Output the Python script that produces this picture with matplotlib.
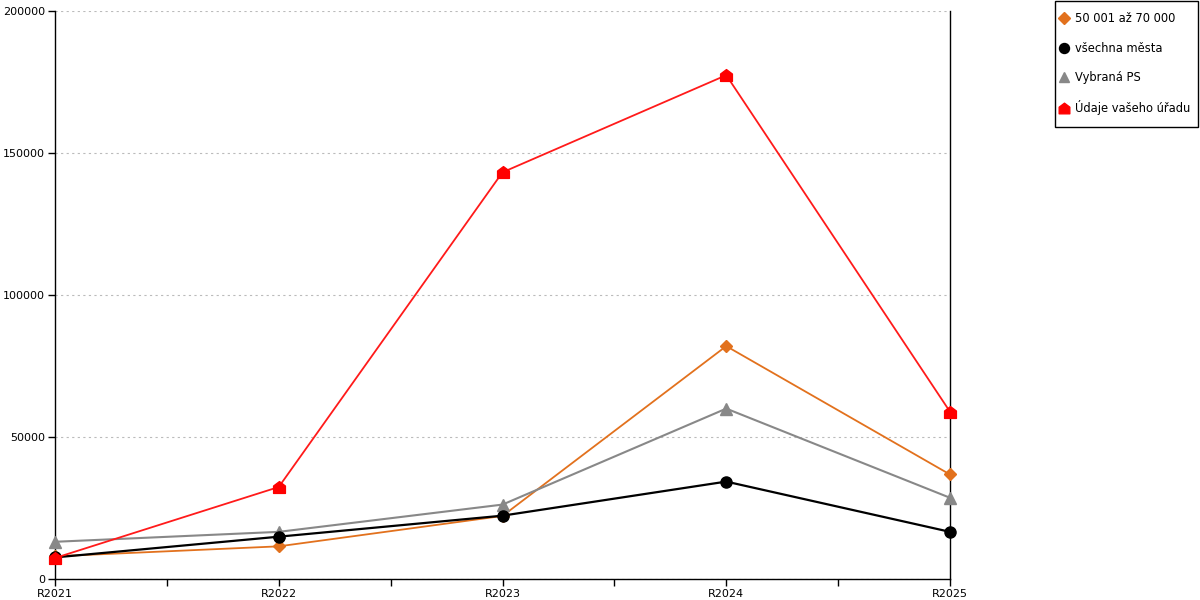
import matplotlib
matplotlib.use("Agg")
import matplotlib.pyplot as plt
from matplotlib.path import Path
from matplotlib.patches import Rectangle
from matplotlib.ticker import MultipleLocator

years = ["R2021", "R2022", "R2023", "R2024", "R2025"]
mesta_50_70 = [8000, 11500, 22200, 82000, 36800]
vsechna_mesta = [7600, 14900, 22300, 34300, 16600]
vybrana_ps = [13100, 16600, 26200, 60000, 28600]
vas_urad = [7400, 32400, 143200, 177400, 58900]

plt.rcParams["font.family"] = ["DejaVu Sans"]

W, H = 1200, 600

# house shaped marker for the office series
house = Path([(-1, -1), (1, -1), (1, 0.25), (0, 1), (-1, 0.25), (-1, -1)],
             [Path.MOVETO, Path.LINETO, Path.LINETO, Path.LINETO, Path.LINETO, Path.CLOSEPOLY])

fig = plt.figure(figsize=(12, 6), dpi=100)
ax = fig.add_axes([55 / W, 1 - 579 / H, (950 - 55) / W, (579 - 11) / H])

x = list(range(len(years)))
ax.plot(x, mesta_50_70, color="#E2711D", lw=1.3, marker="D", ms=6.5, label="50 001 až 70 000",
        zorder=3, clip_on=False)
ax.plot(x, vybrana_ps, color="#888888", lw=1.5, marker="^", ms=8.5, label="Vybraná PS",
        zorder=3, clip_on=False)
ax.plot(x, vsechna_mesta, color="#000000", lw=1.6, marker="o", ms=8, label="všechna města",
        zorder=4, clip_on=False)
ax.plot(x, vas_urad, color="#FF1A1A", lw=1.3, marker=house, ms=8.5, mfc="#FF0000", mec="#FF0000",
        label="Údaje vašeho úřadu", zorder=5, clip_on=False)

ax.set_xlim(0, len(years) - 1)
ax.set_ylim(0, 200000)
ax.set_xticks(x)
ax.set_xticklabels(years, fontsize=8)
ax.xaxis.set_minor_locator(MultipleLocator(0.5))
ax.set_yticks([0, 50000, 100000, 150000, 200000])
ax.set_yticklabels(["0", "50000", "100000", "150000", "200000"], fontsize=8)
ax.tick_params(axis="both", which="both", length=5, width=1, color="black", pad=2)
ax.tick_params(axis="x", which="minor", length=5)

ax.yaxis.grid(True, linestyle=(0, (2, 3)), color="#BBBBBB", lw=0.8)
ax.set_axisbelow(True)
ax.spines["top"].set_visible(False)
for s in ["left", "bottom", "right"]:
    ax.spines[s].set_color("black")
    ax.spines[s].set_linewidth(1)

# legend box drawn by hand so the paddings can differ
fig.patches.append(Rectangle((1054.5 / W, 1 - 127 / H), (1197.5 - 1054.5) / W, 126.5 / H,
                             transform=fig.transFigure, fill=False, edgecolor="black", lw=1))

handles, labels = ax.get_legend_handles_labels()
order = [0, 2, 1, 3]
leg = fig.legend([handles[i] for i in order], [labels[i] for i in order],
                 loc="upper left", bbox_to_anchor=(1060 / W, 1 - 12.5 / H),
                 fontsize=8.3, frameon=False,
                 handlelength=0.7, handletextpad=0.6, labelspacing=1.4,
                 borderpad=0, borderaxespad=0, markerscale=0.9)
for h in leg.legend_handles:
    h.set_linestyle("none")

fig.savefig("out.png", dpi=100)
